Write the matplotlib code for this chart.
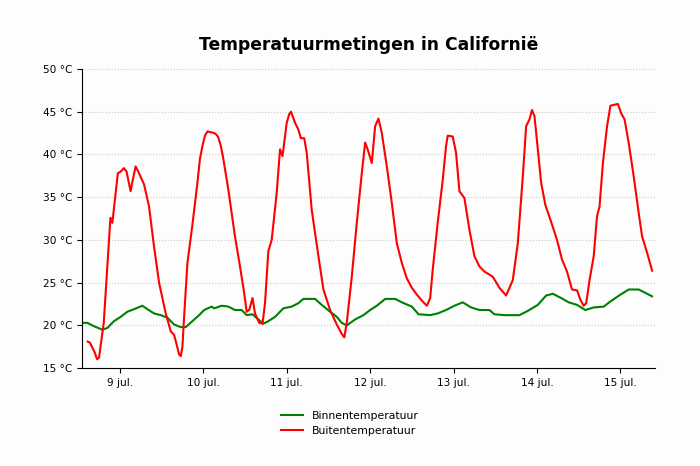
import numpy as np
import pandas as pd
import matplotlib
matplotlib.use("Agg")
import matplotlib.pyplot as plt
import matplotlib.dates as mdates
from matplotlib.ticker import FuncFormatter

# dag in juli (fractie), temperatuur in graden C
binnen_dag = [8.545, 8.61, 8.69, 8.79, 8.85, 8.93, 9.01, 9.09, 9.17, 9.27, 9.33, 9.41, 9.49,
              9.57, 9.65, 9.73, 9.79, 9.87, 9.95, 10.01, 10.10, 10.13, 10.22, 10.30, 10.38,
              10.46, 10.52, 10.59, 10.66, 10.72, 10.78, 10.86, 10.96, 11.06, 11.14, 11.20,
              11.34, 11.42, 11.52, 11.60, 11.66, 11.72, 11.82, 11.92, 12.0, 12.08, 12.18,
              12.30, 12.38, 12.50, 12.58, 12.72, 12.81, 12.91, 13.01, 13.11, 13.21, 13.31,
              13.43, 13.49, 13.61, 13.79, 13.89, 14.01, 14.11, 14.19, 14.29, 14.38, 14.48,
              14.58, 14.68, 14.80, 14.88, 15.0, 15.10, 15.22, 15.30, 15.38]
binnen_temp = [20.3, 20.3, 19.9, 19.5, 19.7, 20.5, 21.0, 21.6, 21.9, 22.3, 21.9, 21.4, 21.2,
               20.9, 20.1, 19.8, 19.8, 20.5, 21.2, 21.8, 22.2, 22.0, 22.3, 22.2, 21.8,
               21.8, 21.2, 21.3, 20.7, 20.2, 20.5, 21.0, 22.0, 22.2, 22.6, 23.1,
               23.1, 22.4, 21.6, 21.0, 20.3, 20.0, 20.7, 21.2, 21.8, 22.3, 23.1,
               23.1, 22.7, 22.2, 21.3, 21.2, 21.4, 21.8, 22.3, 22.7, 22.1, 21.8,
               21.8, 21.3, 21.2, 21.2, 21.7, 22.4, 23.5, 23.7, 23.2, 22.7, 22.4,
               21.8, 22.1, 22.2, 22.8, 23.6, 24.2, 24.2, 23.8, 23.4]

buiten_dag = [8.614, 8.64, 8.70, 8.726, 8.75, 8.807, 8.887, 8.91, 8.976, 9.01, 9.048, 9.08,
              9.11, 9.129, 9.15, 9.189, 9.22, 9.29, 9.35, 9.41, 9.47, 9.55, 9.61, 9.65, 9.68,
              9.71, 9.73, 9.75, 9.77, 9.81, 9.87, 9.93, 9.96, 9.99, 10.02, 10.05, 10.09, 10.13,
              10.16, 10.18, 10.21, 10.235, 10.30, 10.38, 10.44, 10.49, 10.52, 10.55,
              10.59, 10.62, 10.67, 10.71, 10.74, 10.78, 10.82, 10.88, 10.92, 10.95, 11.0,
              11.03, 11.05, 11.07, 11.10, 11.14, 11.17, 11.21, 11.24, 11.30, 11.38, 11.44,
              11.52, 11.60, 11.66, 11.69, 11.72, 11.78, 11.84, 11.90, 11.94, 11.97, 12.02,
              12.06, 12.10, 12.14, 12.20, 12.26, 12.32, 12.38, 12.44, 12.50, 12.56, 12.62,
              12.68, 12.72, 12.75, 12.81, 12.87, 12.91, 12.93, 12.99, 13.03, 13.07, 13.13,
              13.19, 13.25, 13.31, 13.37, 13.47, 13.55, 13.63, 13.71, 13.77, 13.83, 13.87,
              13.91, 13.94, 13.97, 14.01, 14.05, 14.10, 14.16, 14.24, 14.30, 14.36, 14.42,
              14.48, 14.52, 14.56, 14.59, 14.63, 14.68, 14.72, 14.75, 14.79, 14.84, 14.88,
              14.92, 14.97, 15.01, 15.05, 15.10, 15.16, 15.22, 15.26, 15.32, 15.38]
buiten_temp = [18.1, 18.0, 16.8, 16.05, 16.2, 20.3, 32.6, 32.0, 37.8, 38.0, 38.4, 38.0,
               36.6, 35.7, 36.8, 38.6, 38.0, 36.5, 33.9, 29.2, 25.0, 21.4, 19.3, 18.9, 17.8,
               16.6, 16.4, 17.5, 21.0, 27.3, 31.8, 36.7, 39.5, 41.0, 42.2, 42.7, 42.6, 42.5,
               42.3, 42.0, 41.0, 39.8, 35.9, 30.4, 26.9, 23.8, 21.6, 21.8,
               23.2, 21.4, 20.3, 20.2, 22.6, 28.7, 30.0, 35.5, 40.6, 39.8, 43.7,
               44.7, 45.0, 44.5, 43.7, 42.9, 41.9, 41.9, 40.2, 33.5, 28.1, 24.2,
               21.8, 20.1, 19.0, 18.6, 20.3, 25.7, 32.0, 37.8, 41.4, 40.6, 39.0,
               43.3, 44.2, 42.5, 38.6, 34.3, 29.6, 27.3, 25.5, 24.4, 23.6, 22.9,
               22.3, 23.2, 26.5, 32.0, 37.0, 41.0, 42.2, 42.1, 40.2, 35.7, 34.9,
               31.2, 28.1, 26.9, 26.3, 25.7, 24.4, 23.5, 25.3, 29.6, 37.4, 43.3,
               44.1, 45.2, 44.5, 40.6, 36.7, 34.1, 32.4, 30.0, 27.7, 26.3, 24.2,
               24.1, 23.0, 22.3, 22.6, 25.3, 28.1, 32.8, 33.9, 39.0, 43.3, 45.7,
               45.8, 45.9, 44.8, 44.1, 41.3, 37.4, 33.1, 30.4, 28.5, 26.4]

start = pd.Timestamp("2023-07-01")
def to_dates(days):
    return start + pd.to_timedelta(np.array(days) - 1, unit="D")

fig = plt.figure(figsize=(7, 4.66), dpi=100, facecolor="#fdfdfd")
ax = fig.add_axes([0.117, 0.21, 0.819, 0.642])
ax.set_facecolor("#fdfdfd")

ax.plot(to_dates(binnen_dag), binnen_temp, color="green", lw=1.5,
        solid_joinstyle="round", label="Binnentemperatuur")
ax.plot(to_dates(buiten_dag), buiten_temp, color="red", lw=1.5,
        solid_joinstyle="round", label="Buitentemperatuur")

ax.set_xlim(to_dates([8.545])[0], to_dates([15.417])[0])
ax.set_ylim(15, 50)
ax.set_yticks(np.arange(15, 51, 5))
ax.yaxis.set_major_formatter(FuncFormatter(lambda v, p: f"{v:.0f} °C"))
ax.xaxis.set_major_locator(mdates.DayLocator())
ax.xaxis.set_major_formatter(mdates.DateFormatter("%-d jul."))

ax.grid(axis="y", color="#cccccc", linestyle=":", lw=0.8)
ax.spines["top"].set_visible(False)
ax.spines["right"].set_visible(False)
ax.tick_params(labelsize=7.6)

ax.set_title("Temperatuurmetingen in Californië", fontsize=12.3, fontweight="bold", pad=14)
fig.legend(loc="lower center", bbox_to_anchor=(0.5, 0.043), frameon=False, fontsize=7.8)

fig.savefig("out.png", dpi=100, facecolor=fig.get_facecolor())
